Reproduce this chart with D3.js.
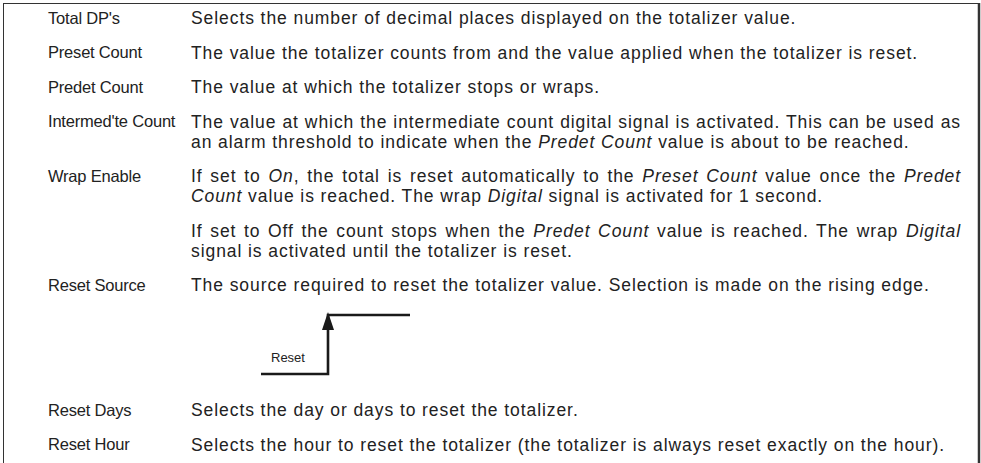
<!DOCTYPE html>
<html><head><meta charset="utf-8">
<script src="https://cdn.jsdelivr.net/npm/d3@7"></script>
<style>
html,body{margin:0;padding:0;background:#fff;}
svg{display:block;}
text{font-family:"Liberation Sans",Arial,Helvetica,sans-serif;fill:#222;}
</style></head>
<body>
<svg id="c" width="981" height="463"></svg>
<script>
// ---- data ----
const labels = ["Total DP's","Preset Count","Predet Count","Intermed'te Count","Wrap Enable","Reset Source","Reset Days","Reset Hour"];
// each description: list of paragraphs, each a list of lines; *text* = italic; a trailing "|" means justified
const descriptions = [
  [["Selects the number of decimal places displayed on the totalizer value."]],
  [["The value the totalizer counts from and the value applied when the totalizer is reset."]],
  [["The value at which the totalizer stops or wraps."]],
  [["The value at which the intermediate count digital signal is activated. This can be used as|",
    "an alarm threshold to indicate when the *Predet Count* value is about to be reached."]],
  [["If set to *On*, the total is reset automatically to the *Preset Count* value once the *Predet*|",
    "*Count* value is reached. The wrap *Digital* signal is activated for 1 second."],
   ["If set to Off the count stops when the *Predet Count* value is reached. The wrap *Digital*|",
    "signal is activated until the totalizer is reset."]],
  [["The source required to reset the totalizer value. Selection is made on the rising edge."]],
  [["Selects the day or days to reset the totalizer."]],
  [["Selects the hour to reset the totalizer (the totalizer is always reset exactly on the hour)."]]
];
const diagramRow = 5;            // row followed by the rising-edge diagram
const edgeSignal = [{t:0,v:0},{t:1,v:0},{t:1,v:1},{t:2,v:1}];
const edgeLabel = "Reset";

// ---- layout ----
const W = 981, H = 463;
const labelSize = 16.5, descSize = 17.5;
const labelX = 48, descX = 191, rightX = 961, fitRight = 945;
const lineH = 20, paraStep = 34.5, firstY = 18, diagramExtra = 90.5;

const svg = d3.select("#c");

// frame
svg.append("line").attr("x1",3.5).attr("x2",979).attr("y1",3.5).attr("y2",3.5).attr("stroke","#333").attr("stroke-width",1);
svg.append("line").attr("x1",3.5).attr("x2",3.5).attr("y1",3).attr("y2",H).attr("stroke","#333").attr("stroke-width",1);
svg.append("line").attr("x1",979).attr("x2",979).attr("y1",3).attr("y2",H).attr("stroke","#333").attr("stroke-width",2.5);

function parse(line){
  let justify = false;
  if (line.endsWith("|")) { justify = true; line = line.slice(0,-1); }
  const segs = [];
  line.split("*").forEach((s,i)=>{ if (s.length) segs.push({s, it: i%2===1}); });
  return {segs, justify, plain: segs.map(s=>s.s).join("")};
}

// fit description tracking so the longest plain line reaches fitRight
const probeLine = descriptions[7][0][0];
const probe = svg.append("text").attr("font-size",descSize).text(probeLine);
const natW = probe.node().getComputedTextLength();
probe.remove();
const tracking = (fitRight - descX - natW) / probeLine.length;

function drawLine(x, y, line, size, ls){
  const p = parse(line);
  const t = svg.append("text").attr("x",x).attr("y",y).attr("dy","0.35em")
    .attr("font-size",size).attr("letter-spacing", ls).attr("xml:space","preserve");
  p.segs.forEach(sg => t.append("tspan").text(sg.s).attr("font-style", sg.it ? "italic" : "normal"));
  if (p.justify){
    const nat = t.node().getComputedTextLength();
    const spaces = (p.plain.match(/ /g)||[]).length;
    if (spaces) t.attr("word-spacing", (rightX - x - nat)/spaces);
  }
  return t;
}

let y = firstY;
labels.forEach((lab, i) => {
  drawLine(labelX, y, lab, labelSize, -0.2);
  const paras = descriptions[i];
  paras.forEach((para, pi) => {
    para.forEach((ln, li) => {
      drawLine(descX, y, ln, descSize, tracking);
      if (li < para.length-1) y += lineH;
    });
    if (pi < paras.length-1) y += paraStep;
  });
  if (i === diagramRow){
    const top = y + 30, bottom = y + 89;
    const xs = d3.scaleLinear().domain([0,1,2]).range([261,328,410]);
    const ys = d3.scaleLinear().domain([0,1]).range([bottom, top]);
    const g = svg.append("g");
    g.append("path").datum(edgeSignal)
      .attr("d", d3.line().x(d=>xs(d.t)).y(d=>ys(d.v)))
      .attr("fill","none").attr("stroke","#1a1a1a").attr("stroke-width",2.6)
      .attr("stroke-linejoin","miter");
    const ax = xs(1), tip = ys(1) - 3;
    g.append("path").attr("d", `M${ax},${tip} L${ax-6},${tip+18} L${ax+6},${tip+18} Z`).attr("fill","#1a1a1a");
    svg.append("text").attr("x",271).attr("y",bottom-17).attr("dy","0.35em")
      .attr("font-size",13).text(edgeLabel);
    y += diagramExtra;
  }
  y += paraStep;
});
</script>
</body></html>
